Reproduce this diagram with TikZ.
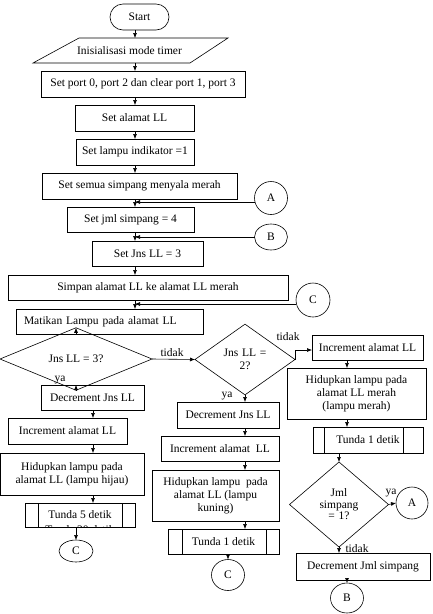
\documentclass[tikz,border=0pt]{standalone}
\usepackage{fontspec}
\setmainfont{Liberation Serif}
\usetikzlibrary{arrows.meta,shapes.geometric}
\tikzset{
  every node/.style={font=\fontsize{11.5}{13}\selectfont, outer sep=0pt},
  box/.style={draw, rectangle, line width=0.6pt, align=center, inner sep=2pt},
  conn/.style={draw, line width=0.6pt, inner sep=0pt},
  dia/.style={draw, diamond, line width=0.6pt, align=center, inner sep=0pt},
  arr/.style={line width=0.6pt, -{Latex[length=5pt,width=4pt]}},
  lbl/.style={inner sep=0pt}
}
\begin{document}
\begin{tikzpicture}[x=1pt,y=-1pt]
\fill[white] (0,0) rectangle (432,614);
\useasboundingbox (0,0) rectangle (432,614);
% column coordinates
\coordinate (col) at (135,0);
\coordinate (c93) at (93,0);
\coordinate (c245) at (245,0);
\coordinate (c347) at (347,0);
% top column
\node[box, rounded corners=13pt, minimum width=59pt, minimum height=26pt] (start) at (139.5,17) {Start};
\node[inner sep=0pt, minimum height=25pt, minimum width=110pt] (init) at (129.5,50.5) {Inisialisasi mode timer};
\draw[line width=0.6pt] (79,38) -- (228,38) -- (190,63) -- (33,63) -- cycle;
\node[box, minimum width=204pt, minimum height=26pt] (port) at (143,84) {Set port 0, port 2 dan clear port 1, port 3};
\node[box, minimum width=119pt, minimum height=26pt] (alamat) at (134.5,118) {Set alamat LL};
\node[box, minimum width=118pt, minimum height=26pt] (lampu) at (135,152) {Set lampu indikator =1};
\node[box, minimum width=195pt, minimum height=26pt] (semua) at (139.5,186) {Set semua simpang menyala merah};
\node[box, minimum width=127pt, minimum height=25pt] (jml) at (130.5,219.5) {Set jml simpang = 4};
\node[box, minimum width=111pt, minimum height=25pt] (jns) at (147.5,253.5) {Set Jns LL = 3};
\node[box, minimum width=280pt, minimum height=25pt] (simpan) at (148,287.5) {Simpan alamat LL ke alamat LL merah};
\node[box, minimum height=25pt, text width=171pt, inner xsep=8pt, align=left] (mati) at (109.5,321.5) {Matikan Lampu pada alamat LL};
% connectors A B C
\node[conn, circle, minimum size=33pt] (A) at (271,198) {A};
\node[conn, ellipse, minimum width=33pt, minimum height=26pt] (B) at (271,237) {B};
\node[conn, circle, minimum size=34pt] (C1) at (313,300) {C};
\coordinate (jA) at (135,202);
\coordinate (jB) at (135,237);
\coordinate (jC) at (135,304);
% left branch
\node[dia, minimum width=152pt, minimum height=32pt] (D1) at (76,359) {Jns LL = 3?};
\node[box, minimum width=103pt, minimum height=25pt] (dec1) at (92.5,397.5) {Decrement Jns LL};
\node[box, minimum width=119pt, minimum height=26pt] (inc1) at (67.5,431) {Increment alamat LL};
\node[box, minimum width=144pt, minimum height=42pt] (hid1) at (72,474) {Hidupkan lampu pada\\alamat LL (lampu hijau)};
\node[box, minimum width=110pt, minimum height=24pt] (t5) at (80,515) {};
\node[anchor=base, inner sep=0pt] (t5txt) at (80,518) {Tunda 5 detik};
\begin{scope}
\clip (t5.south west) rectangle (t5.north east);
\node[anchor=base, inner sep=0pt] (t5txt2) at (80,533.5) {Tunda 20 detik};
\end{scope}
\draw[line width=0.6pt] ([xshift=13pt]t5.north west) -- ([xshift=13pt]t5.south west);
\draw[line width=0.6pt] ([xshift=-13pt]t5.north east) -- ([xshift=-13pt]t5.south east);
\node[conn, ellipse, minimum width=34pt, minimum height=22pt] (C2) at (76,551) {C};
% middle branch
\node[dia, minimum width=100pt, minimum height=67pt, text width=50pt] (D2) at (245,359.5) {Jns LL =\\2?};
\node[box, minimum width=102pt, minimum height=26pt] (dec2) at (228,415) {Decrement Jns LL};
\node[box, minimum width=118pt, minimum height=25pt] (inc2) at (220,448.5) {Increment alamat\ \ LL};
\node[box, minimum width=127pt, minimum height=51pt] (hid2) at (215.5,495.5) {Hidupkan lampu\ \ pada\\alamat LL (lampu\\kuning)};
\node[box, minimum width=111pt, minimum height=25pt] (t1m) at (223.5,541.5) {Tunda 1 detik};
\draw[line width=0.6pt] ([xshift=14pt]t1m.north west) -- ([xshift=14pt]t1m.south west);
\draw[line width=0.6pt] ([xshift=-13pt]t1m.north east) -- ([xshift=-13pt]t1m.south east);
\node[conn, ellipse, minimum width=33pt, minimum height=31pt] (C3) at (228,575) {C};
% right branch
\node[box, minimum width=111pt, minimum height=25pt] (incR) at (367.5,347.5) {Increment alamat LL};
\node[box, minimum width=139pt, minimum height=51pt] (hidR) at (356.5,393.5) {Hidupkan lampu pada\\alamat LL merah\\(lampu merah)};
\node[box, minimum width=110pt, minimum height=26pt] (t1r) at (368,440) {Tunda 1 detik};
\draw[line width=0.6pt] ([xshift=11pt]t1r.north west) -- ([xshift=11pt]t1r.south west);
\draw[line width=0.6pt] ([xshift=-20pt]t1r.north east) -- ([xshift=-20pt]t1r.south east);
\node[dia, minimum width=99pt, minimum height=85pt, text width=50pt, font=\fontsize{11.5}{11.5}\selectfont] (D3) at (339,504.5) {Jml\\simpang\\= 1?};
\node[conn, circle, minimum size=32pt] (A2) at (412,503) {A};
\node[box, minimum width=134pt, minimum height=27pt] (decR) at (363,566.5) {Decrement Jml simpang};
\node[conn, ellipse, minimum width=33pt, minimum height=30pt] (B2) at (347,598) {B};
% arrows main column
\draw[arr] (start.south -| col) -- (init.north -| col);
\draw[arr] (init.south -| col) -- (port.north -| col);
\draw[arr] (port.south -| col) -- (alamat.north -| col);
\draw[arr] (alamat.south -| col) -- (lampu.north -| col);
\draw[arr] (lampu.south -| col) -- (semua.north -| col);
\draw[arr] (semua.south -| col) -- (jml.north -| col);
\draw[arr] (jml.south -| col) -- (jns.north -| col);
\draw[arr] (jns.south -| col) -- (simpan.north -| col);
\draw[arr] (simpan.south -| col) -- (mati.north -| col);
\draw[arr] (A.west |- jA) -- (jA);
\draw[arr] (B.west |- jB) -- (jB);
\draw[arr] (C1.west |- jC) -- (jC);
% left branch arrows
\draw[arr] (mati.south -| D1) -- (D1.north);
\draw[arr] (D1.east) -- (D2.west);
\node[lbl] (tidak1) at (172,353) {tidak};
\draw[arr] (D1.south) -- (dec1.north -| D1.south);
\node[lbl] (ya1) at (60,380) {ya};
\draw[arr] (dec1.south -| c93) -- (inc1.north -| c93);
\draw[arr] (inc1.south -| c93) -- (hid1.north -| c93);
\draw[arr] (hid1.south -| c93) -- (t5.north -| c93);
\draw[arr] (t5.south -| C2) -- (C2.north);
% middle branch arrows
\draw[arr] (D2.south) -- (dec2.north -| c245);
\node[lbl] (ya2) at (227,396) {ya};
\draw[arr] (dec2.south -| c245) -- (inc2.north -| c245);
\draw[arr] (inc2.south -| c245) -- (hid2.north -| c245);
\draw[arr] (hid2.south -| c245) -- (t1m.north -| c245);
\draw[arr] (t1m.south -| C3) -- (C3.north);
\coordinate (kR) at ([yshift=-2.5pt]incR.west);
\draw[arr] (D2.east) -- (D2.east |- kR) -- (kR);
\node[lbl] (tidak2) at (288,337) {tidak};
% right branch arrows
\draw[arr] (incR.south -| c347) -- (hidR.north -| c347);
\draw[arr] (hidR.south -| c347) -- (t1r.north -| c347);
\draw[arr] (t1r.south -| D3) -- (D3.north);
\draw[arr] (D3.east) -- (A2.west);
\node[lbl] (ya3) at (391,493) {ya};
\draw[arr] (D3.south) -- (decR.north -| D3.south);
\node[lbl] (tidak3) at (357,549) {tidak};
\draw[arr] (decR.south -| B2) -- (B2.north);
\end{tikzpicture}
\end{document}
